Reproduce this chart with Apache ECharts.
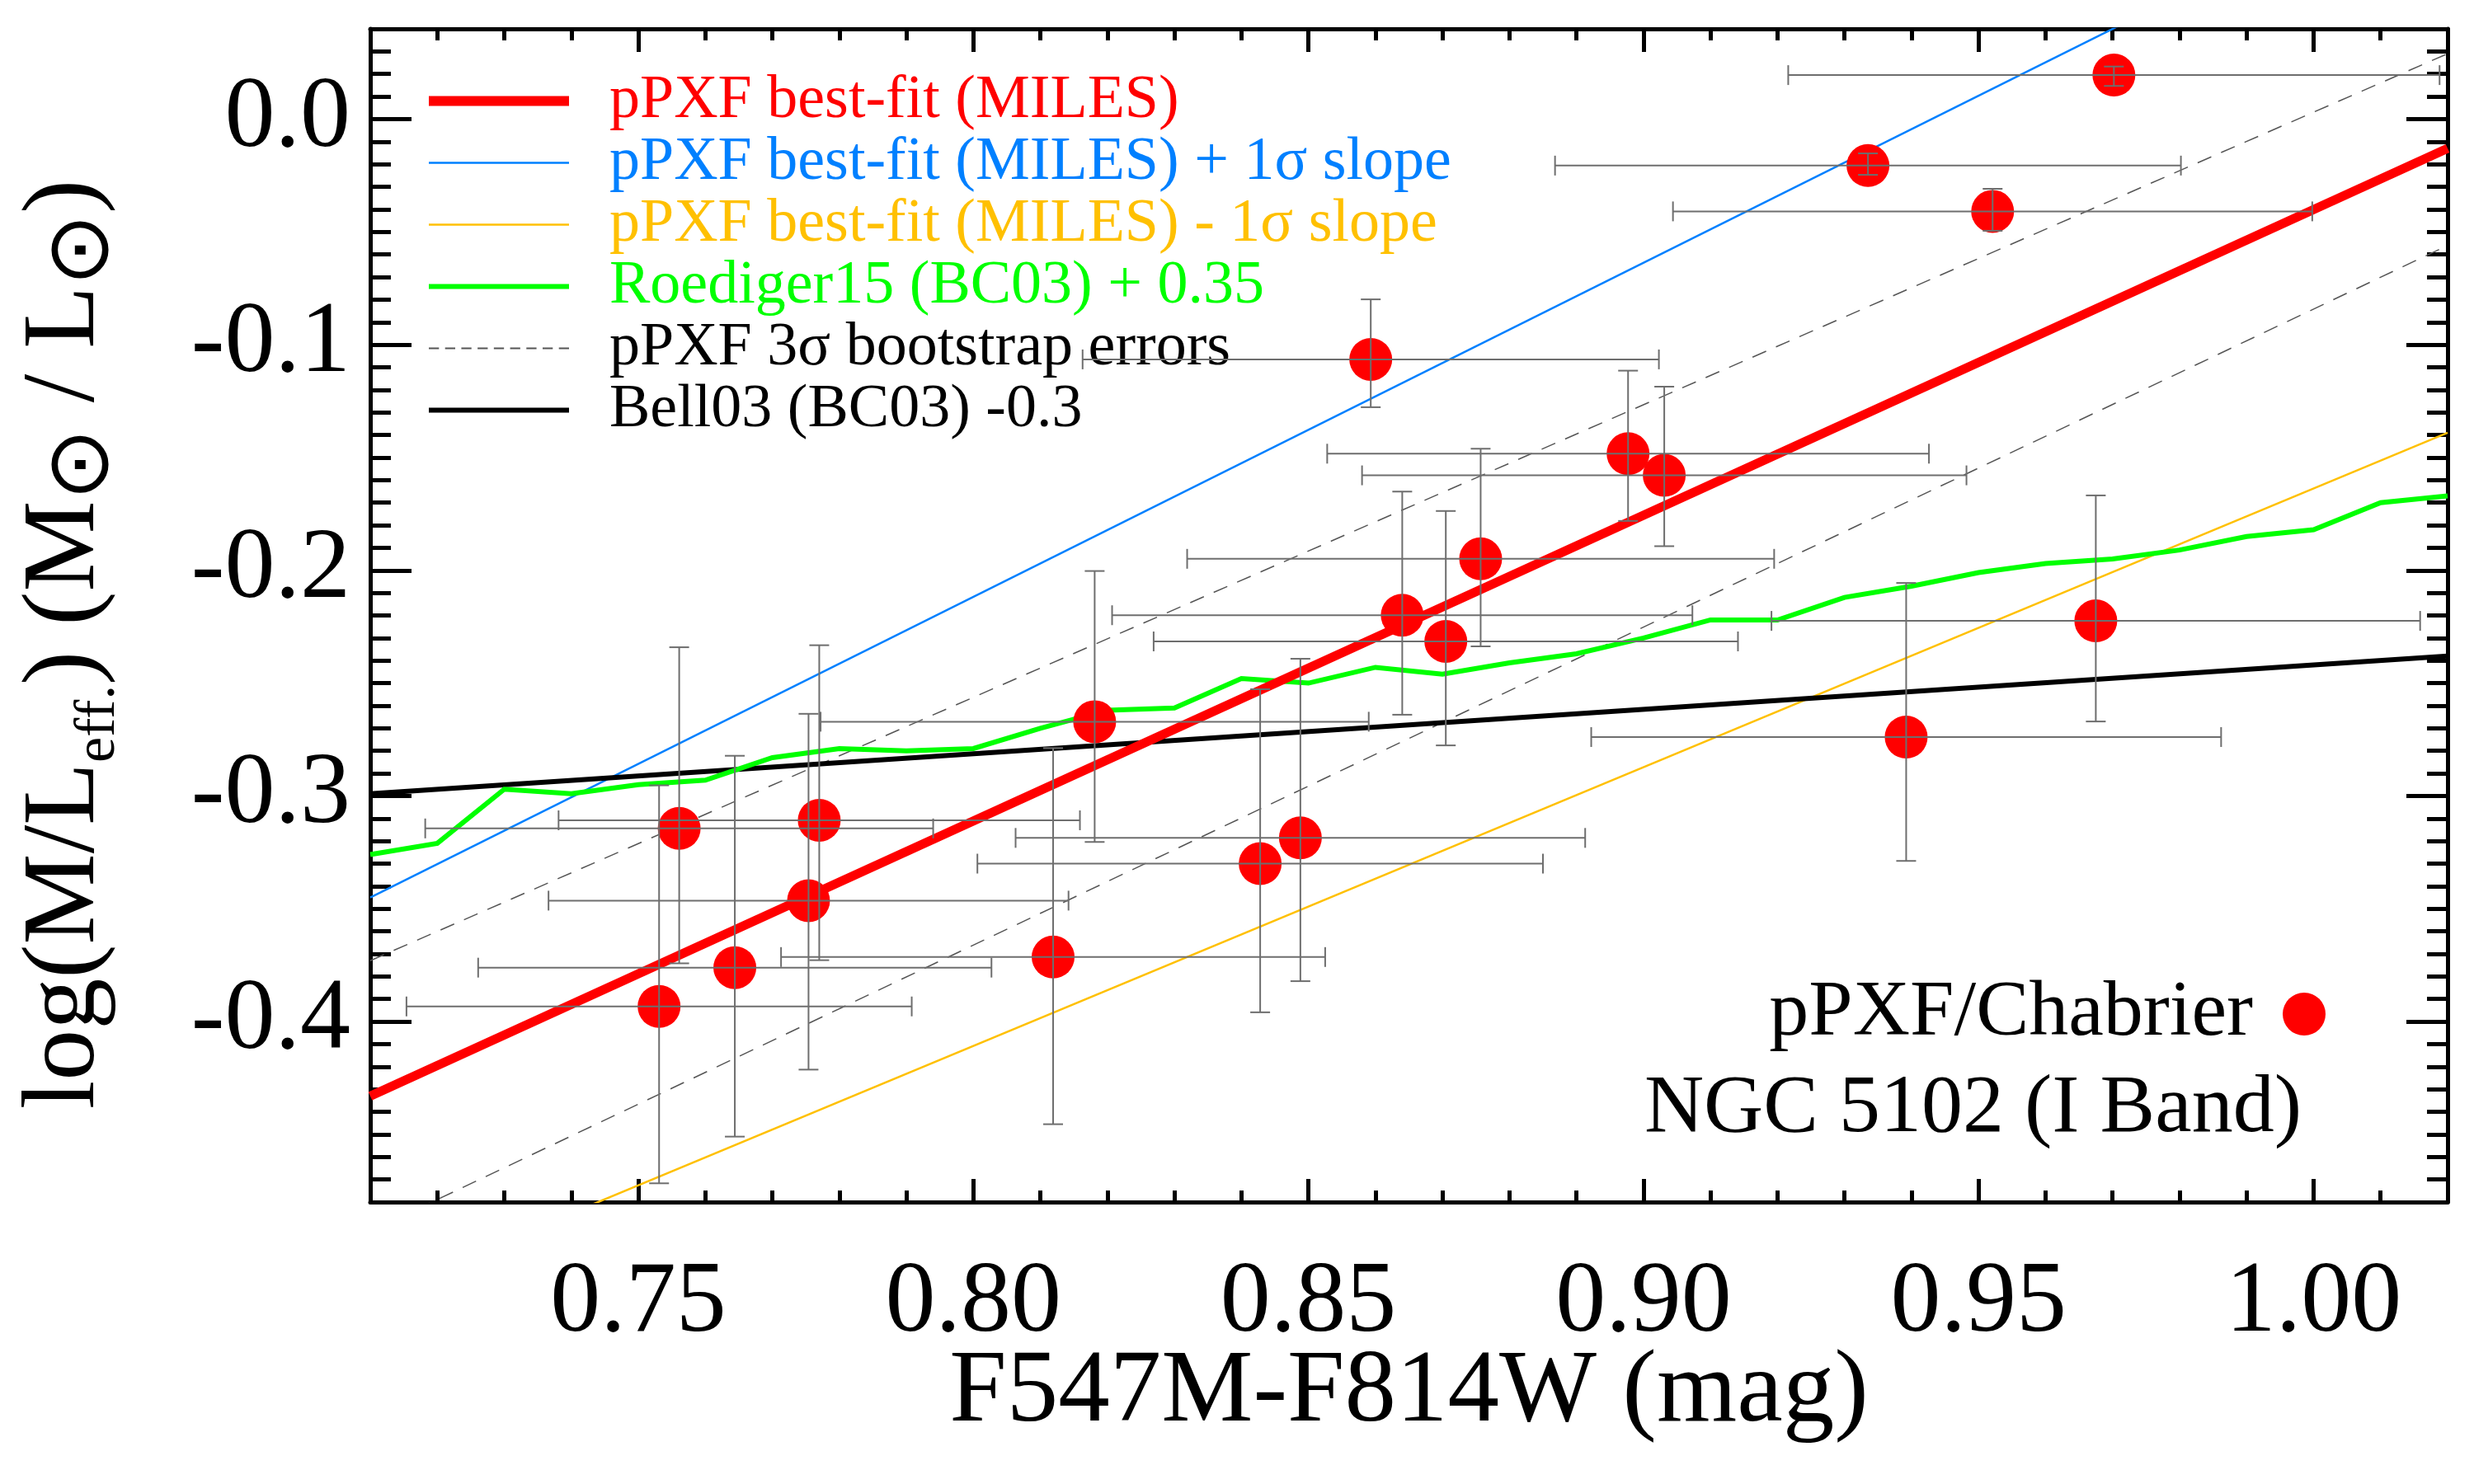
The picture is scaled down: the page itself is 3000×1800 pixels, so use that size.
<!DOCTYPE html>
<html>
<head>
<meta charset="utf-8">
<title>NGC 5102 M/L vs colour</title>
<script src="https://cdn.jsdelivr.net/npm/echarts@6/dist/echarts.min.js"></script>
<style>
  html, body { margin: 0; padding: 0; background: #fff; }
  #chart { width: 3000px; height: 1800px; }
</style>
</head>
<body>
<div id="chart"></div>
<script>
// axis ranges and tick labels
const xRange = [0.71, 1.02];
const yRange = [-0.48, 0.04];
const xMajorTicks = [0.75, 0.80, 0.85, 0.90, 0.95, 1.00];
const yMajorTicks = [-0.4, -0.3, -0.2, -0.1, 0.0];

// pPXF/Chabrier points (colour, log M/L) with error bars
const ptX    = [0.7531, 0.7561, 0.7644, 0.7754, 0.7770, 0.8119, 0.8181, 0.8428, 0.8488, 0.8593,
                0.8640, 0.8705, 0.8757, 0.8977, 0.9031, 0.9335, 0.9392, 0.9521, 0.9675, 0.9702];
const ptY    = [-0.3933, -0.3144, -0.3761, -0.3464, -0.3108, -0.3714, -0.2671, -0.3300, -0.3186, -0.1065,
                -0.2199, -0.2315, -0.1949, -0.1483, -0.1579, -0.0206, -0.2739, -0.0409, -0.2224, 0.0195];
const ptXErr = [0.0377, 0.0379, 0.0383, 0.0388, 0.0389, 0.0406, 0.0409, 0.0422, 0.0425, 0.0430,
                0.0433, 0.0436, 0.0438, 0.0449, 0.0451, 0.0467, 0.0470, 0.0477, 0.0484, 0.0486];
const ptYLo  = [-0.4717, -0.3742, -0.4510, -0.4213, -0.3728, -0.4455, -0.3204, -0.3959, -0.3821, -0.1277,
                -0.2640, -0.2776, -0.2337, -0.1781, -0.1893, -0.0247, -0.3288, -0.0495, -0.2670, 0.0147];
const ptYHi  = [-0.2953, -0.2341, -0.2822, -0.2636, -0.2332, -0.2788, -0.2003, -0.2527, -0.2392, -0.0799,
                -0.1651, -0.1737, -0.1461, -0.1115, -0.1186, -0.0152, -0.2056, -0.0309, -0.1668, 0.0233];

// straight relations, sampled at the two ends of the x range
const lineX      = [0.71, 1.02];
const fitY       = [-0.433, -0.013];
const fitPlusY   = [-0.345, 0.114];
const fitMinusY  = [-0.522, -0.139];
const bootUpperY = [-0.373, 0.029];
const bootLowerY = [-0.493, -0.056];
const bellY      = [-0.299, -0.238];

// Roediger15 (BC03) + 0.35
const roedX = [0.71, 0.72, 0.73, 0.74, 0.75, 0.76, 0.77, 0.78, 0.79, 0.80, 0.81, 0.82, 0.83, 0.84, 0.85, 0.86,
               0.87, 0.88, 0.89, 0.90, 0.91, 0.92, 0.93, 0.94, 0.95, 0.96, 0.97, 0.98, 0.99, 1.00, 1.01, 1.02];
const roedY = [-0.326, -0.321, -0.297, -0.299, -0.295, -0.293, -0.283, -0.279, -0.280, -0.279, -0.270, -0.262,
               -0.261, -0.248, -0.250, -0.243, -0.246, -0.241, -0.237, -0.230, -0.222, -0.222, -0.212, -0.207,
               -0.201, -0.197, -0.195, -0.191, -0.185, -0.182, -0.170, -0.167];

const FONT = "'Liberation Serif', 'Times New Roman', 'DejaVu Serif', serif";
const pairs = (xs, ys) => xs.map((x, i) => [x, ys[i]]);

// legend icons: filled bars of the line thickness, and a dashed one
const barIcon = h => 'path://M0,0h170v' + h + 'h-170z';
let dashPath = 'path://';
for (let i = 0; i < 9; i++) dashPath += 'M' + (i * 19.25) + ',0h12v2h-12z';

function renderErrorBar(params, api) {
  const x = api.value(0), y = api.value(1);
  const ex = api.value(2), lo = api.value(3), hi = api.value(4);
  const l = api.coord([x - ex, y]);
  const r = api.coord([x + ex, y]);
  const t = api.coord([x, hi]);
  const b = api.coord([x, lo]);
  const cap = 12;
  const style = { stroke: '#6e6e6e', lineWidth: 2 };
  const seg = (x1, y1, x2, y2) => ({ type: 'line', shape: { x1, y1, x2, y2 }, style });
  return {
    type: 'group',
    children: [
      seg(l[0], l[1], r[0], r[1]),
      seg(l[0], l[1] - cap, l[0], l[1] + cap),
      seg(r[0], r[1] - cap, r[0], r[1] + cap),
      seg(t[0], t[1], b[0], b[1]),
      seg(t[0] - cap, t[1], t[0] + cap, t[1]),
      seg(b[0] - cap, b[1], b[0] + cap, b[1])
    ]
  };
}

const frame = { color: '#000', width: 5 };
const tickStyle = { color: '#000', width: 5 };

// minor-tick axis (every 0.01) and major-tick axis for one side
function minorAxis(range, position, len) {
  return {
    type: 'value', min: range[0], max: range[1], interval: 0.01, position: position,
    axisLine: { show: true, onZero: false, lineStyle: frame },
    axisTick: { show: true, inside: true, length: len, lineStyle: tickStyle },
    axisLabel: { show: false }, splitLine: { show: false }
  };
}
function majorAxis(range, position, len, ticks) {
  return {
    type: 'value', min: range[0], max: range[1], position: position,
    axisLine: { show: false, onZero: false },
    axisTick: { show: true, inside: true, length: len, customValues: ticks, lineStyle: tickStyle },
    axisLabel: { show: false }, splitLine: { show: false }
  };
}

const xLabelAxis = majorAxis(xRange, 'bottom', 28, xMajorTicks);
xLabelAxis.axisLabel = {
  show: true, customValues: xMajorTicks, margin: 63,
  fontFamily: FONT, fontSize: 122, color: '#000',
  formatter: v => v.toFixed(2)
};
xLabelAxis.name = 'F547M-F814W (mag)';
xLabelAxis.nameLocation = 'middle';
xLabelAxis.nameGap = 170;
xLabelAxis.nameMoveOverlap = false;
xLabelAxis.nameTextStyle = { fontFamily: FONT, fontSize: 125, color: '#000' };

const yLabelAxis = majorAxis(yRange, 'left', 50, yMajorTicks);
yLabelAxis.axisLabel = {
  show: true, customValues: yMajorTicks, margin: 24,
  fontFamily: FONT, fontSize: 122, color: '#000',
  formatter: v => v.toFixed(1)
};
yLabelAxis.name = '{m|log(M/L}{s|eff.}{m|) (M}{o|⊙}{m| / L}{o|⊙}{m|)}';
yLabelAxis.nameLocation = 'middle';
yLabelAxis.nameGap = 294;
yLabelAxis.nameMoveOverlap = false;
yLabelAxis.nameTextStyle = {
  fontFamily: FONT, fontSize: 124, color: '#000', padding: [0, 70, 0, 0],
  rich: {
    m: { fontFamily: FONT, fontSize: 124, lineHeight: 150, color: '#000' },
    s: { fontFamily: FONT, fontSize: 70, lineHeight: 70, verticalAlign: 'bottom', color: '#000' },
    o: { fontFamily: "'DejaVu Sans', " + FONT, fontSize: 105, lineHeight: 68, verticalAlign: 'bottom', color: '#000' }
  }
};

const option = {
  animation: false,
  backgroundColor: '#fff',
  textStyle: { fontFamily: FONT },
  grid: { left: 449, right: 32, top: 35, bottom: 342, containLabel: false, outerBoundsMode: 'none' },
  xAxis: [
    minorAxis(xRange, 'bottom', 14),
    xLabelAxis,
    minorAxis(xRange, 'top', 14),
    majorAxis(xRange, 'top', 28, xMajorTicks)
  ],
  yAxis: [
    minorAxis(yRange, 'left', 25),
    yLabelAxis,
    minorAxis(yRange, 'right', 25),
    majorAxis(yRange, 'right', 50, yMajorTicks)
  ],
  legend: [
    {
      orient: 'vertical', left: 520, top: 85, padding: 0, itemGap: 0,
      itemWidth: 170, itemHeight: 40, selectedMode: false,
      itemStyle: { borderWidth: 0 },
      textStyle: { fontFamily: FONT, fontSize: 74, lineHeight: 75, padding: [0, 0, 0, 44] },
      data: [
        { name: 'pPXF best-fit (MILES)', icon: barIcon(12), textStyle: { color: '#ff0000' } },
        { name: 'pPXF best-fit (MILES) + 1σ slope', icon: barIcon(2.5), textStyle: { color: '#0080ff' } },
        { name: 'pPXF best-fit (MILES) - 1σ slope', icon: barIcon(2.5), textStyle: { color: '#ffc000' } },
        { name: 'Roediger15 (BC03) + 0.35', icon: barIcon(6), textStyle: { color: '#00ff00' } },
        { name: 'pPXF 3σ bootstrap errors', icon: dashPath, textStyle: { color: '#000' } },
        { name: 'Bell03 (BC03) -0.3', icon: barIcon(6), textStyle: { color: '#000' } }
      ]
    },
    {
      orient: 'vertical', right: 180, top: 1182, padding: 0, align: 'right',
      itemWidth: 52, itemHeight: 52, selectedMode: false,
      itemStyle: { borderWidth: 0 },
      textStyle: { fontFamily: FONT, fontSize: 96, lineHeight: 96, color: '#000', padding: [0, 31, 0, 0] },
      data: [{ name: 'pPXF/Chabrier', icon: 'circle' }]
    }
  ],
  title: {
    text: 'NGC 5102 (I Band)', right: 209, top: 1296, padding: 0,
    textStyle: { fontFamily: FONT, fontSize: 100, fontWeight: 'normal', color: '#000' }
  },
  series: [
    {
      name: 'pPXF 3σ bootstrap errors', type: 'line', data: pairs(lineX, bootUpperY),
      symbol: 'none', color: '#555', z: 2,
      lineStyle: { color: '#555', width: 1.5, type: [18, 13] }
    },
    {
      name: 'pPXF 3σ bootstrap errors', type: 'line', data: pairs(lineX, bootLowerY),
      symbol: 'none', color: '#555', z: 2,
      lineStyle: { color: '#555', width: 1.5, type: [18, 13] }
    },
    {
      name: 'pPXF best-fit (MILES) + 1σ slope', type: 'line', data: pairs(lineX, fitPlusY),
      symbol: 'none', color: '#0080ff', z: 2, lineStyle: { color: '#0080ff', width: 2.5 }
    },
    {
      name: 'pPXF best-fit (MILES) - 1σ slope', type: 'line', data: pairs(lineX, fitMinusY),
      symbol: 'none', color: '#ffc000', z: 2, lineStyle: { color: '#ffc000', width: 2.5 }
    },
    {
      name: 'Bell03 (BC03) -0.3', type: 'line', data: pairs(lineX, bellY),
      symbol: 'none', color: '#000', z: 2, lineStyle: { color: '#000', width: 6 }
    },
    {
      name: 'Roediger15 (BC03) + 0.35', type: 'line', data: pairs(roedX, roedY),
      symbol: 'none', color: '#00ff00', z: 2, lineStyle: { color: '#00ff00', width: 6, join: 'miter' }
    },
    {
      name: 'pPXF best-fit (MILES)', type: 'line', data: pairs(lineX, fitY),
      symbol: 'none', color: '#ff0000', z: 2, lineStyle: { color: '#ff0000', width: 11 }
    },
    {
      name: 'pPXF/Chabrier', type: 'scatter', data: pairs(ptX, ptY),
      symbol: 'circle', symbolSize: 52, z: 3, itemStyle: { color: '#ff0000', opacity: 1 }
    },
    {
      name: 'errors', type: 'custom', renderItem: renderErrorBar, z: 4, clip: true,
      encode: { x: 0, y: 1 },
      data: ptX.map((x, i) => [x, ptY[i], ptXErr[i], ptYLo[i], ptYHi[i]])
    }
  ]
};

const chart = echarts.init(document.getElementById('chart'));
chart.setOption(option);
</script>
</body>
</html>
